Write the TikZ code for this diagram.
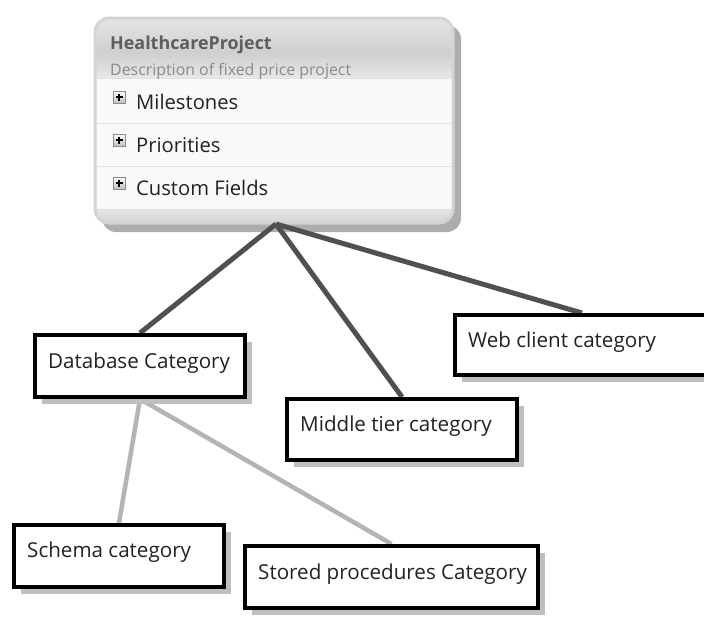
\documentclass[tikz,border=0pt]{standalone}
\usepackage{fontspec}
\setmainfont{Open Sans}
\usetikzlibrary{shadows}
\pgfdeclarelayer{back}
\pgfdeclarelayer{mid}
\pgfsetlayers{back,mid,main}
\definecolor{linedark}{HTML}{505050}
\definecolor{linelight}{HTML}{B4B4B4}
\definecolor{rowbg}{HTML}{F9F9F9}
\definecolor{sepcol}{HTML}{E2E2E2}
\definecolor{frame}{HTML}{D4D4D4}
\definecolor{titlecol}{HTML}{5E5E5E}
\definecolor{desccol}{HTML}{8A8A8A}
\definecolor{textcol}{HTML}{222222}
\tikzset{
  catbox/.style={draw=black, line width=4pt, fill=white, inner sep=0pt,
    drop shadow={shadow xshift=7pt, shadow yshift=-7pt, fill=black!25, opacity=1}},
  cattext/.style={anchor=base west, inner sep=0pt, text=textcol, font=\fontsize{20.6}{24}\selectfont},
  rowtext/.style={anchor=base west, inner sep=0pt, text=textcol, font=\fontsize{20.2}{24}\selectfont},
  plusbox/.style={draw=black!45, line width=0.6pt, top color=white, bottom color=black!25},
  darkline/.style={draw=linedark, line width=5pt},
  lightline/.style={draw=linelight, line width=4.5pt}
}
\begin{document}
\begin{tikzpicture}[x=1pt,y=-1pt]
\useasboundingbox (0,0) rectangle (704,622);

% ---------- top project box ----------
\begin{pgfonlayer}{back}
\fill[white] (0,0) rectangle (704,622);
\fill[black!32, rounded corners=14pt] (102,25) rectangle (461,232);
\fill[white, rounded corners=14pt] (95,18) rectangle (453,223);
\begin{scope}
  \clip[rounded corners=14pt] (95,18) rectangle (453,223);
  \shade[top color=black!10, bottom color=black!19] (95,18) rectangle (453,52);
  \shade[top color=black!19, bottom color=black!9] (95,52) rectangle (453,78);
  \fill[rowbg] (95,78) rectangle (453,209);
  \shade[top color=black!10, bottom color=black!17] (95,209) rectangle (453,223);
  \draw[sepcol, line width=1pt] (95,78.5) -- (453,78.5);
  \draw[sepcol, line width=1pt] (95,123) -- (453,123);
  \draw[sepcol, line width=1pt] (95,166) -- (453,166);
  \draw[black!12, line width=1pt] (95,209) -- (453,209);
\end{scope}
\draw[frame, line width=3pt, rounded corners=14pt] (95,18) rectangle (453,223);
\end{pgfonlayer}

\node[anchor=base west, inner sep=0pt, text=titlecol, font=\bfseries\fontsize{17.9}{21}\selectfont] (title) at (110,49) {HealthcareProject};
\node[anchor=base west, inner sep=0pt, text=desccol, font=\fontsize{15.9}{19}\selectfont] (desc) at (110,75) {Description of fixed price project};

\foreach \yy/\name/\txt in {0/ms/Milestones, 43/pr/Priorities, 86/cf/Custom Fields}{
  \path[plusbox] (113,91+\yy) rectangle (125,103+\yy);
  \draw[black, line width=1.4pt] (115.5,97+\yy) -- (122.5,97+\yy) (119,93.5+\yy) -- (119,100.5+\yy);
  \node[rowtext] (\name) at (136,109.5+\yy) {\txt};
}

\coordinate (apex) at (276,224);

% ---------- category boxes ----------
\node[catbox, minimum width=210pt, minimum height=62pt] (db) at (140,366) {};
\node[catbox, minimum width=230pt, minimum height=61pt] (mid) at (402,429.5) {};
\node[catbox, minimum width=258pt, minimum height=60pt] (web) at (584,345) {};
\node[catbox, minimum width=210pt, minimum height=62pt] (sch) at (119,556) {};
\node[catbox, minimum width=293pt, minimum height=62pt] (sp) at (391.5,577) {};

\node[cattext] (dbt) at (48,368) {Database Category};
\node[cattext] (midt) at (300,431) {Middle tier category};
\node[cattext] (webt) at (468,347) {Web client category};
\node[cattext] (scht) at (27,557) {Schema category};
\node[cattext] (spt) at (258,579) {Stored procedures Category};

% ---------- connectors ----------
\begin{pgfonlayer}{mid}
\draw[darkline] (apex) -- (db.north);
\draw[darkline] (apex) -- (mid.north);
\draw[darkline] (apex) -- ([xshift=-2pt]web.north);
\draw[lightline] (db.south) -- (sch.north);
\draw[lightline] (db.south) -- (sp.north);
\end{pgfonlayer}
\end{tikzpicture}
\end{document}
